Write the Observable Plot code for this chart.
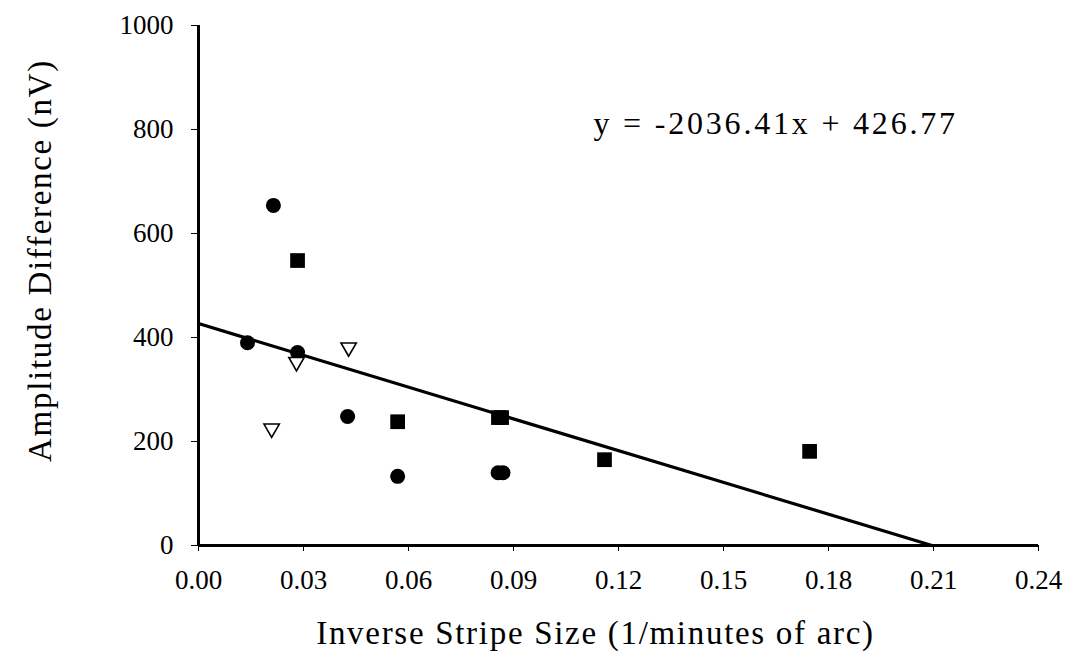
<!DOCTYPE html>
<html>
<head>
<meta charset="utf-8">
<script src="https://cdn.jsdelivr.net/npm/d3@7"></script>
<script src="https://cdn.jsdelivr.net/npm/@observablehq/plot@0.6"></script>
<style>
  html, body { margin: 0; padding: 0; background: #fff; }
  #chart svg { display: block; }
</style>
</head>
<body>
<div id="chart"></div>
<script>
// ---- data ----
const circleX = [0.0140, 0.0214, 0.0283, 0.0426, 0.0569, 0.0856, 0.0870];
const circleY = [390, 654, 371, 248, 133, 140, 140];

const squareX = [0.0283, 0.0569, 0.0857, 0.0866, 0.1160, 0.1746];
const squareY = [548, 238, 246, 246, 165, 181];

const triangleX = [0.0209, 0.0280, 0.0429];
const triangleY = [225, 353, 381];

const fitSlope = -2036.41;
const fitIntercept = 426.77;
const equationLabel = "y = -2036.41x + 426.77";

const xTicks = [0, 0.03, 0.06, 0.09, 0.12, 0.15, 0.18, 0.21, 0.24];
const yTicks = [0, 200, 400, 600, 800, 1000];
const xLabel = "Inverse Stripe Size (1/minutes of arc)";
const yLabel = "Amplitude Difference (nV)";

// ---- build tables ----
const circles = circleX.map((x, i) => ({x, y: circleY[i]}));
const squares = squareX.map((x, i) => ({x, y: squareY[i]}));
const triangles = triangleX.map((x, i) => ({x, y: triangleY[i]}));
const fitEnd = -fitIntercept / fitSlope;
const fitLine = [0, fitEnd].map(x => ({x, y: fitSlope * x + fitIntercept}));

const font = "'Liberation Serif', 'Times New Roman', serif";

const svg = Plot.plot({
  width: 1074,
  height: 664,
  marginLeft: 198,
  marginRight: 36,
  marginTop: 25,
  marginBottom: 119,
  style: {fontFamily: font, fontSize: "27px", background: "white", color: "black"},
  x: {domain: [0, 0.24], ticks: xTicks, tickFormat: d3.format(".2f"), tickSize: 6, tickPadding: 18, label: null},
  y: {domain: [0, 1000], ticks: yTicks, tickFormat: d3.format("d"), tickSize: 7, tickPadding: 18, label: null},
  marks: [
    Plot.ruleY([0], {stroke: "black", strokeWidth: 3}),
    Plot.ruleX([0], {stroke: "black", strokeWidth: 3}),
    Plot.line(fitLine, {x: "x", y: "y", stroke: "black", strokeWidth: 3.2}),
    Plot.dot(circles, {x: "x", y: "y", symbol: "circle", r: 7.5, fill: "black", stroke: "none"}),
    Plot.dot(squares, {x: "x", y: "y", symbol: "square", r: 8.3, fill: "black", stroke: "none"}),
    Plot.dot(triangles, {x: "x", y: "y", symbol: "triangle", r: 5.7, rotate: 180, fill: "white", stroke: "black", strokeWidth: 1.6}),
    Plot.text([equationLabel], {frameAnchor: "top-left", dx: 395, dy: 108, textAnchor: "start", lineAnchor: "bottom", fontSize: 32, fill: "black"}),
    Plot.text([xLabel], {frameAnchor: "bottom", dx: -23, dy: 98, textAnchor: "middle", lineAnchor: "bottom", fontSize: 33, fill: "black"}),
    Plot.text([yLabel], {frameAnchor: "left", dx: -148, dy: -25, rotate: -90, textAnchor: "middle", lineAnchor: "bottom", fontSize: 33, fill: "black"})
  ]
});

document.getElementById("chart").appendChild(svg);

// widen the title texts slightly to match the reference's wide lettering
d3.select(svg).selectAll("text").filter(function () { return this.textContent === xLabel; }).attr("letter-spacing", "1.7px");
d3.select(svg).selectAll("text").filter(function () { return this.textContent === yLabel; }).attr("letter-spacing", "1.7px");
d3.select(svg).selectAll("text").filter(function () { return this.textContent === equationLabel; }).attr("letter-spacing", "2.8px");
</script>
</body>
</html>
